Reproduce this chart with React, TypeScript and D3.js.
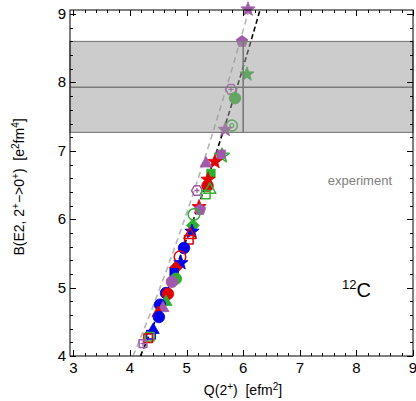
import React from 'react';
import * as d3 from 'd3';

const W = 416;
const H = 401;
const PLOT = { left: 70, right: 413, top: 10, bottom: 356 };
const xDomain = [2.94, 9.0];
const yDomain = [4, 9.06];
const xTicks = [3, 4, 5, 6, 7, 8, 9];
const yTicks = [4, 5, 6, 7, 8, 9];

// calculations (Q(2+), B(E2))
const pointQ = [6.085, 5.979, 6.067, 5.785, 5.855, 5.80, 5.68, 5.625, 5.61, 5.50, 5.343, 5.43, 5.378, 5.37, 5.184, 5.41, 5.34, 5.22, 5.237, 5.13, 5.11, 5.095, 5.06, 5.04, 4.954, 4.883, 4.90, 4.81, 4.78, 4.81, 4.74, 4.636, 4.67, 4.636, 4.53, 4.583, 4.495, 4.51, 4.41, 4.37, 4.35, 4.32, 4.23];
const pointB = [9.07, 8.60, 8.12, 7.90, 7.77, 7.37, 7.31, 6.93, 6.95, 6.84, 6.815, 6.67, 6.58, 6.49, 6.42, 6.43, 6.36, 6.18, 6.14, 6.07, 5.91, 5.82, 5.77, 5.70, 5.58, 5.45, 5.36, 5.29, 5.22, 5.13, 5.085, 4.92, 4.91, 4.79, 4.75, 4.70, 4.63, 4.57, 4.38, 4.31, 4.28, 4.26, 4.18];
const pointShape = ['star', 'pentagon', 'star', 'hexplus', 'circle', 'target', 'star', 'star', 'square', 'star', 'triangle', 'square', 'star', 'circle', 'hexplus', 'triangle', 'square', 'star', 'pentagon', 'circle', 'diamond', 'star', 'triangle', 'square', 'circle', 'circle', 'star', 'diamond', 'square', 'circle', 'circle', 'circle', 'circle', 'triangle', 'circle', 'triangle', 'triangle', 'circle', 'triangle', 'square', 'square', 'square', 'squareplus'];
const pointColor = ['p', 'p', 'g', 'p', 'g', 'g', 'p', 'g', 'p', 'r', 'p', 'g', 'r', 'r', 'p', 'g', 'g', 'r', 'p', 'g', 'g', 'b', 'r', 'r', 'b', 'r', 'b', 'r', 'b', 'g', 'p', 'b', 'r', 'g', 'b', 'p', 'r', 'b', 'b', 'b', 'g', 'r', 'p'];
const pointFilled = [1, 1, 1, 0, 1, 0, 1, 0, 1, 1, 1, 1, 1, 1, 0, 0, 0, 1, 1, 0, 1, 1, 0, 0, 1, 0, 1, 1, 1, 1, 1, 1, 1, 1, 1, 1, 1, 1, 1, 0, 0, 0, 0];

// fits B = a * Q^2
const fitNames = ['gray', 'black'];
const fitCoef = [0.2435, 0.2285];

// experiment
const expQ = 6.0;
const expB = 7.93;
const expBLow = 7.27;
const expBHigh = 8.6;

const COLORS: Record<string, string> = { b: '#0000e6', r: '#e00000', g: '#2fae2f', p: '#a15aab' };

function poly(n: number, r: number, start: number) {
  const pts: string[] = [];
  for (let i = 0; i < n; i++) {
    const a = start + (i * 2 * Math.PI) / n;
    pts.push(`${(r * Math.cos(a)).toFixed(2)},${(r * Math.sin(a)).toFixed(2)}`);
  }
  return 'M' + pts.join('L') + 'Z';
}
function star(r: number) {
  const pts: string[] = [];
  for (let i = 0; i < 10; i++) {
    const rr = i % 2 === 0 ? r : r * 0.42;
    const a = -Math.PI / 2 + (i * Math.PI) / 5;
    pts.push(`${(rr * Math.cos(a)).toFixed(2)},${(rr * Math.sin(a)).toFixed(2)}`);
  }
  return 'M' + pts.join('L') + 'Z';
}
function shapePath(s: string) {
  switch (s) {
    case 'star': return star(7.5);
    case 'pentagon': return poly(5, 6, -Math.PI / 2);
    case 'hexplus': return poly(6, 5.5, 0);
    case 'triangle': return poly(3, 7, -Math.PI / 2);
    case 'diamond': return poly(4, 6.5, -Math.PI / 2);
    case 'square': return poly(4, 6, Math.PI / 4);
    case 'squareplus': return poly(4, 5.5, Math.PI / 4);
    default: return null;
  }
}

export default function App() {
  const x = d3.scaleLinear().domain(xDomain).range([PLOT.left, PLOT.right]);
  const y = d3.scaleLinear().domain(yDomain).range([PLOT.bottom, PLOT.top]);
  const xMinor = d3.range(3, 9.001, 0.2);
  const yMinor = d3.range(4, 9.061, 0.2);

  const fitPaths = fitCoef.map((a) => {
    const q0 = Math.sqrt(yDomain[0] / a);
    const q1 = Math.sqrt(yDomain[1] / a);
    const qs = d3.range(0, 41).map((i) => q0 + ((q1 - q0) * i) / 40);
    return d3.line<number>().x((q) => x(q)).y((q) => y(a * q * q))(qs) || '';
  });

  const font = 'Liberation Sans, Arial, sans-serif';
  const sp = '\u00a0\u00a0';

  return (
    <svg width={W} height={H} style={{ position: 'absolute', left: 0, top: 0, background: '#fff' }} fontFamily={font}>
      <defs>
        <clipPath id="plotclip">
          <rect x={PLOT.left} y={PLOT.top} width={PLOT.right - PLOT.left} height={PLOT.bottom - PLOT.top} />
        </clipPath>
      </defs>
      {/* fits */}
      <g clipPath="url(#plotclip)">
        <path d={fitPaths[0]} fill="none" stroke="#b4b4b4" strokeWidth={1.6} strokeDasharray="6,4" />
        <path d={fitPaths[1]} fill="none" stroke="#000" strokeWidth={1.6} strokeDasharray="5,3" />
      </g>
      {/* points */}
      <g>
        {pointQ.map((q, i) => {
          const cx = x(q);
          const cy = y(pointB[i]);
          const col = COLORS[pointColor[i]];
          const filled = pointFilled[i] === 1;
          const s = pointShape[i];
          const fill = filled ? col : 'none';
          const sw = filled ? 0.8 : 1.5;
          if (s === 'circle') {
            return <circle key={i} cx={cx} cy={cy} r={5.8} fill={fill} stroke={col} strokeWidth={sw} />;
          }
          if (s === 'target') {
            return (
              <g key={i} transform={`translate(${cx},${cy})`}>
                <circle r={5.5} fill="none" stroke={col} strokeWidth={1.5} />
                <circle r={2} fill="none" stroke={col} strokeWidth={1.2} />
              </g>
            );
          }
          const d = shapePath(s) as string;
          return (
            <g key={i} transform={`translate(${cx},${cy})`}>
              <path d={d} fill={fill} stroke={col} strokeWidth={sw} strokeLinejoin="round" />
              {(s === 'hexplus' || s === 'squareplus') && (
                <path d="M-2.5,0L2.5,0M0,-2.5L0,2.5" stroke={col} strokeWidth={1.3} />
              )}
            </g>
          );
        })}
      </g>
      {/* experiment band */}
      <rect x={PLOT.left} y={y(expBHigh)} width={PLOT.right - PLOT.left} height={y(expBLow) - y(expBHigh)} fill="#999" fillOpacity={0.5} stroke="#808080" strokeWidth={1.2} />
      <line x1={PLOT.left} x2={PLOT.right} y1={y(expB)} y2={y(expB)} stroke="#7a7a7a" strokeWidth={1.6} />
      <line x1={x(expQ)} x2={x(expQ)} y1={y(expBHigh)} y2={y(expBLow)} stroke="#7a7a7a" strokeWidth={1.6} />
      <text x={392} y={185} textAnchor="end" fontSize={13} fill="#808080">experiment</text>

      {/* frame */}
      <rect x={PLOT.left} y={PLOT.top} width={PLOT.right - PLOT.left} height={PLOT.bottom - PLOT.top} fill="none" stroke="#000" strokeWidth={1} />
      {/* ticks */}
      <g stroke="#000" strokeWidth={1}>
        {xMinor.map((v, i) => {
          const major = xTicks.some((t) => Math.abs(t - v) < 1e-6);
          const len = major ? 6 : 3;
          const px = Math.round(x(v)) + 0.5;
          return (
            <g key={'x' + i}>
              <line x1={px} x2={px} y1={PLOT.bottom} y2={PLOT.bottom - len} />
              <line x1={px} x2={px} y1={PLOT.top} y2={PLOT.top + len} />
            </g>
          );
        })}
        {yMinor.map((v, i) => {
          const major = yTicks.some((t) => Math.abs(t - v) < 1e-6);
          const len = major ? 6 : 3;
          const py = Math.round(y(v)) + 0.5;
          return (
            <g key={'y' + i}>
              <line x1={PLOT.left} x2={PLOT.left + len} y1={py} y2={py} />
              <line x1={PLOT.right} x2={PLOT.right - len} y1={py} y2={py} />
            </g>
          );
        })}
      </g>
      {/* tick labels */}
      <g fontSize={15} fill="#000">
        {xTicks.map((t) => (
          <text key={'xl' + t} x={x(t)} y={PLOT.bottom + 17} textAnchor="middle">{t}</text>
        ))}
        {yTicks.map((t) => (
          <text key={'yl' + t} x={PLOT.left - 4} y={y(t) + 5} textAnchor="end">{t}</text>
        ))}
      </g>
      {/* axis labels */}
      <text x={243} y={395} textAnchor="middle" fontSize={14} fill="#000">
        <tspan>Q(2</tspan>
        <tspan dy={-5} fontSize={10}>+</tspan>
        <tspan dy={5}>{')' + sp + '[efm'}</tspan>
        <tspan dy={-5} fontSize={10}>2</tspan>
        <tspan dy={5}>]</tspan>
      </text>
      <text transform={`translate(24,${187}) rotate(-90)`} textAnchor="middle" fontSize={14} fill="#000">
        <tspan>B(E2, 2</tspan>
        <tspan dy={-5} fontSize={10}>+</tspan>
        <tspan dy={5}>−&gt;0</tspan>
        <tspan dy={-5} fontSize={10}>+</tspan>
        <tspan dy={5}>{')' + sp + '[e'}</tspan>
        <tspan dy={-5} fontSize={10}>2</tspan>
        <tspan dy={5}>fm</tspan>
        <tspan dy={-5} fontSize={10}>4</tspan>
        <tspan dy={5}>]</tspan>
      </text>
      {/* nucleus label */}
      <text x={342} y={297} fontSize={20} fill="#000">
        <tspan dy={-8} fontSize={13}>12</tspan>
        <tspan dy={8}>C</tspan>
      </text>
    </svg>
  );
}
